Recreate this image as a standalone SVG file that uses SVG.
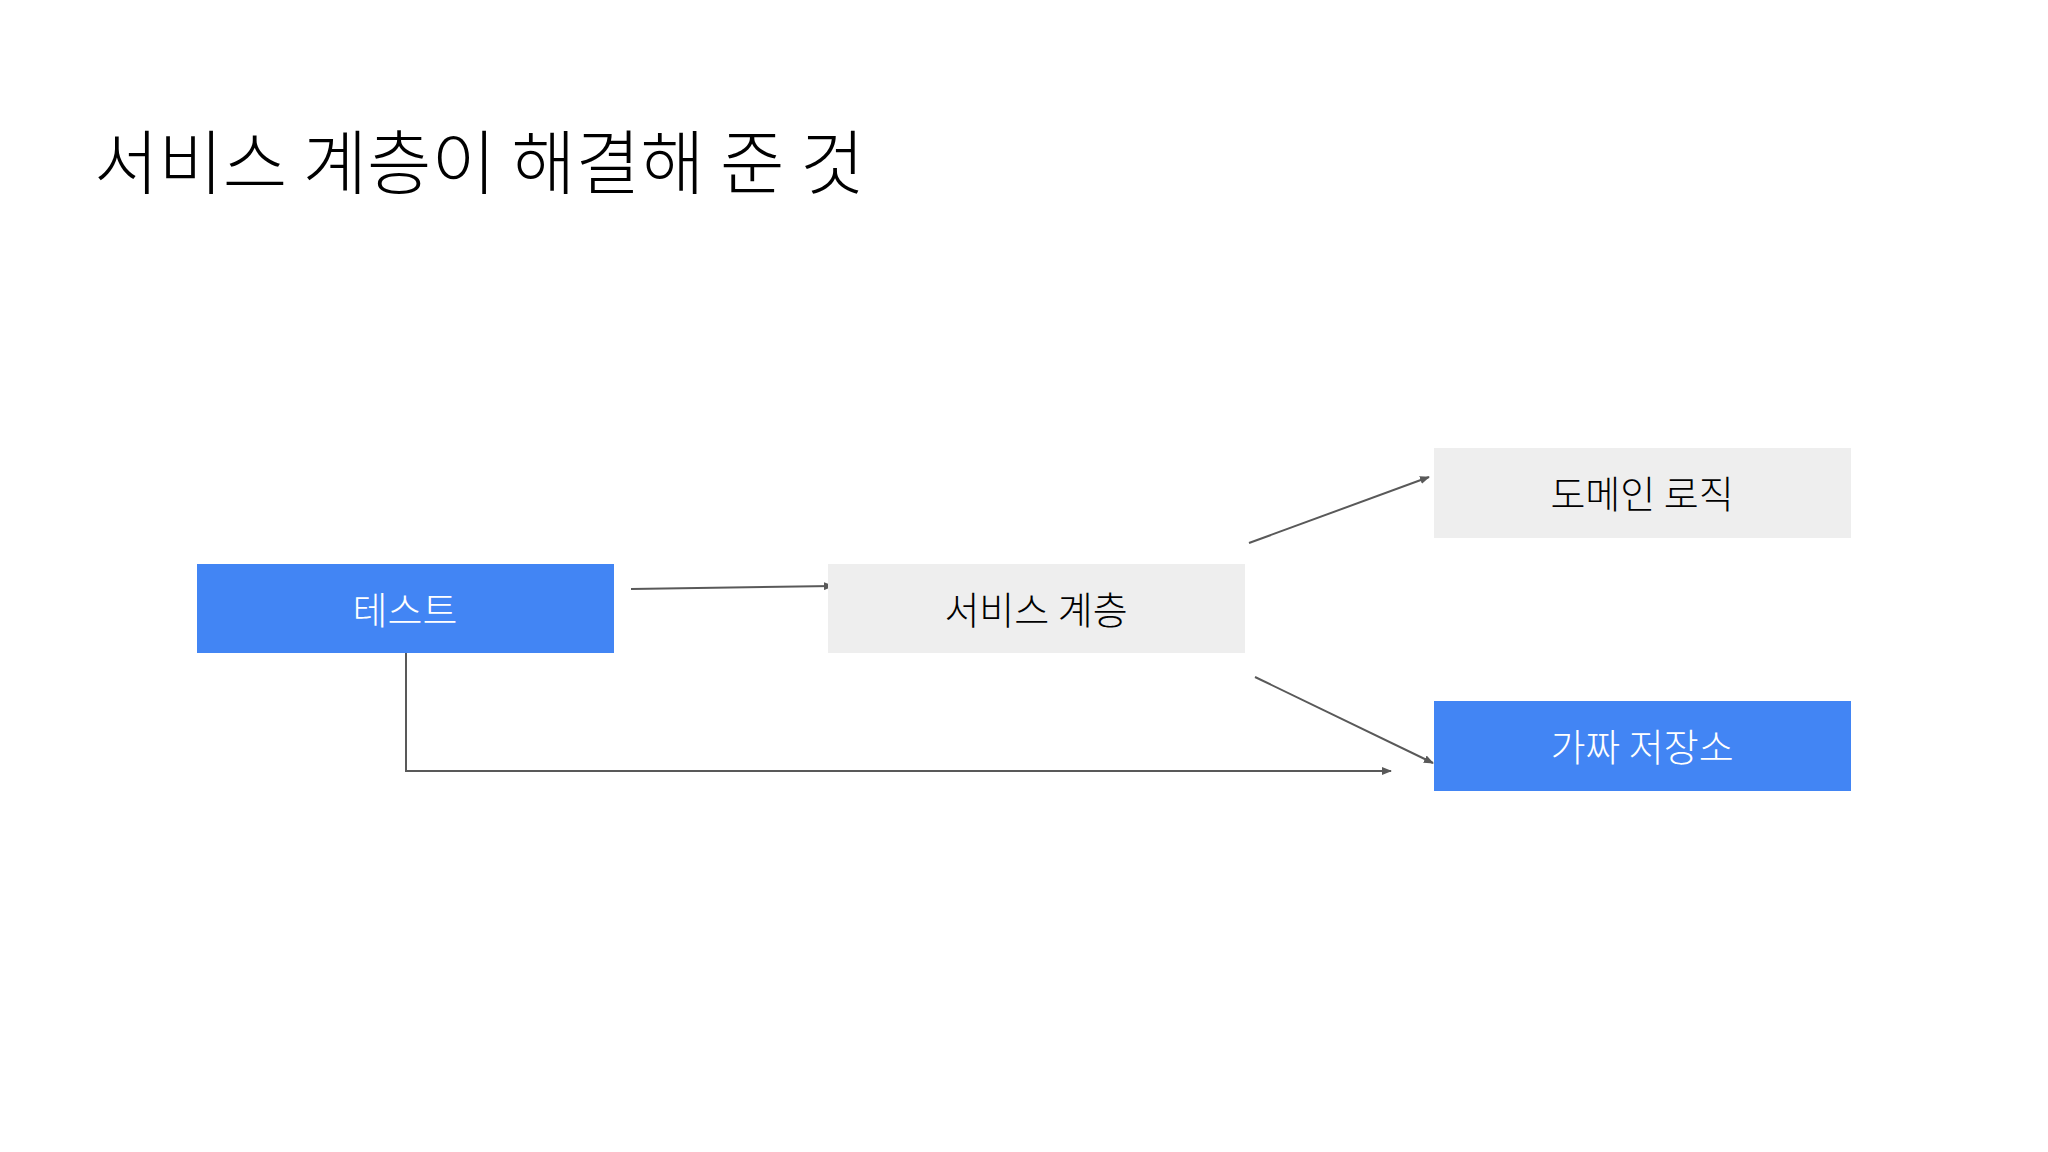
<svg xmlns="http://www.w3.org/2000/svg" width="2048" height="1152" viewBox="0 0 2048 1152">
<defs>
<marker id="ah" markerWidth="10" markerHeight="8" refX="9" refY="4" orient="auto" markerUnits="userSpaceOnUse"><path d="M0,0 L10,4 L0,8 z" fill="#595959"/></marker>
<style>
.t{font-family:"Noto Sans CJK KR","Noto Sans",sans-serif;font-weight:300;text-anchor:middle;dominant-baseline:central;font-size:38px}
.c{stroke:#595959;stroke-width:2;fill:none;marker-end:url(#ah)}
</style>
</defs>
<rect width="2048" height="1152" fill="#ffffff"/>
<text x="94" y="189" font-family="'Noto Sans CJK KR','Noto Sans',sans-serif" font-weight="300" font-size="70" fill="#000">서비스 계층이 해결해 준 것</text>
<g id="connectors">
<path class="c" d="M631,589 L833,586"/>
<path class="c" d="M1249,543 L1429,477"/>
<path class="c" d="M1255,677 L1433,763"/>
<path class="c" d="M406,653 L406,771 L1391,771"/>
</g>
<g id="test"><rect x="197" y="564" width="417" height="89" fill="#4285F4"/><text class="t" x="405" y="607" fill="#fff">테스트</text></g>
<g id="service"><rect x="828" y="564" width="417" height="89" fill="#EEEEEE"/><text class="t" x="1036" y="607" fill="#000">서비스 계층</text></g>
<g id="domain"><rect x="1434" y="448" width="417" height="90" fill="#EEEEEE"/><text class="t" x="1642" y="491" fill="#000">도메인 로직</text></g>
<g id="fake"><rect x="1434" y="701" width="417" height="90" fill="#4285F4"/><text class="t" x="1642" y="744" fill="#fff">가짜 저장소</text></g>
</svg>
